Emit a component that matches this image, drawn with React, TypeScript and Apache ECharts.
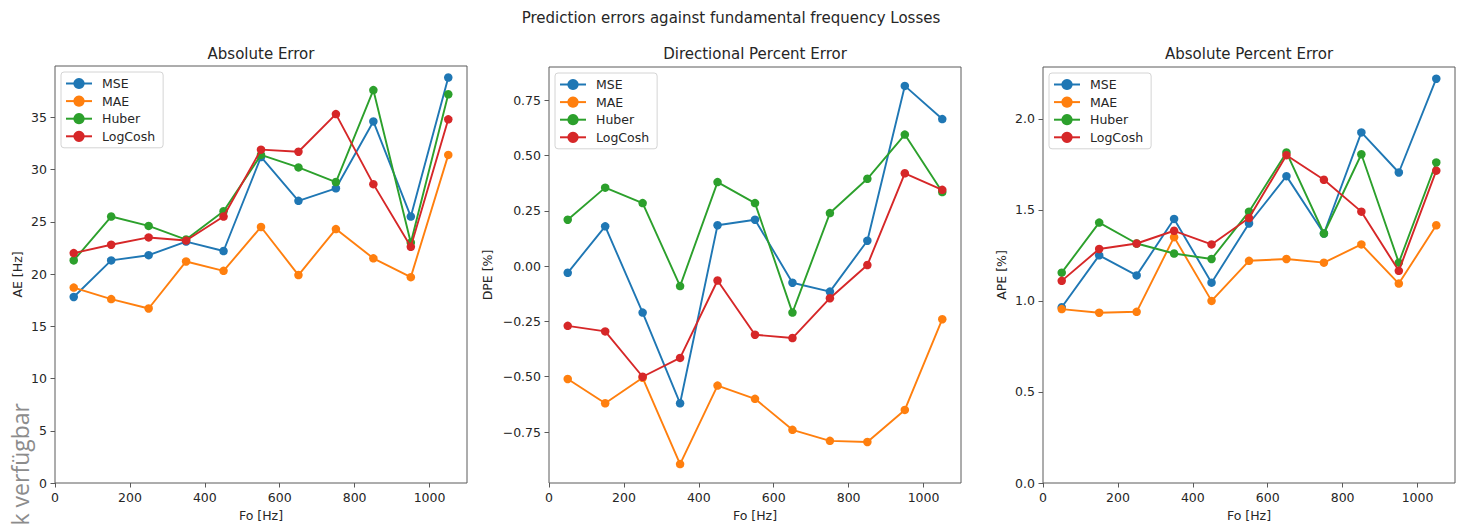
import React, { useEffect, useRef } from "react";
import * as echarts from "echarts";

// Fundamental frequency bins (Hz)
const freqs = [50, 150, 250, 350, 450, 550, 650, 750, 850, 950, 1050];
const lossNames = ["MSE", "MAE", "Huber", "LogCosh"];
const lossColors = ["#1f77b4", "#ff7f0e", "#2ca02c", "#d62728"];

// Absolute Error [Hz]
const aeMSE = [17.8, 21.3, 21.8, 23.1, 22.2, 31.2, 27.0, 28.2, 34.6, 25.5, 38.8];
const aeMAE = [18.7, 17.6, 16.7, 21.2, 20.3, 24.5, 19.9, 24.3, 21.5, 19.7, 31.4];
const aeHuber = [21.3, 25.5, 24.6, 23.3, 26.0, 31.4, 30.2, 28.8, 37.6, 23.0, 37.2];
const aeLogCosh = [22.0, 22.8, 23.5, 23.2, 25.5, 31.9, 31.7, 35.3, 28.6, 22.6, 34.8];

// Directional Percent Error [%]
const dpeMSE = [-0.03, 0.18, -0.21, -0.62, 0.185, 0.21, -0.075, -0.115, 0.115, 0.815, 0.665];
const dpeMAE = [-0.51, -0.62, -0.505, -0.895, -0.54, -0.6, -0.74, -0.79, -0.795, -0.65, -0.24];
const dpeHuber = [0.21, 0.355, 0.285, -0.09, 0.38, 0.285, -0.21, 0.24, 0.395, 0.595, 0.335];
const dpeLogCosh = [-0.27, -0.295, -0.5, -0.415, -0.065, -0.31, -0.325, -0.145, 0.005, 0.42, 0.345];

// Absolute Percent Error [%]
const apeMSE = [0.965, 1.25, 1.14, 1.45, 1.1, 1.425, 1.685, 1.37, 1.925, 1.705, 2.22];
const apeMAE = [0.955, 0.935, 0.94, 1.35, 1.0, 1.22, 1.23, 1.21, 1.31, 1.095, 1.415];
const apeHuber = [1.155, 1.43, 1.315, 1.26, 1.23, 1.49, 1.815, 1.37, 1.805, 1.21, 1.76];
const apeLogCosh = [1.11, 1.285, 1.315, 1.385, 1.31, 1.455, 1.8, 1.665, 1.49, 1.165, 1.715];

// Tick values
const xTicks = [0, 200, 400, 600, 800, 1000];
const aeTicks = [0, 5, 10, 15, 20, 25, 30, 35];
const dpeTicks = [-0.75, -0.5, -0.25, 0, 0.25, 0.5, 0.75];
const apeTicks = [0, 0.5, 1.0, 1.5, 2.0];

const suptitle = "Prediction errors against fundamental frequency Losses";
const panelTitles = ["Absolute Error", "Directional Percent Error", "Absolute Percent Error"];
const yNames = ["AE [Hz]", "DPE [%]", "APE [%]"];
const xName = "Fo [Hz]";
const sideNote = "k verfügbar";

const FONT = '"DejaVu Sans", sans-serif';
const SPINE = "#5a5a5a";
const TEXT = "#262626";

const panels = [
  { series: [aeMSE, aeMAE, aeHuber, aeLogCosh], ticks: aeTicks, digits: 0, zeroBottom: true, left: 55, top: 66, nameGap: 31 },
  { series: [dpeMSE, dpeMAE, dpeHuber, dpeLogCosh], ticks: dpeTicks, digits: 2, zeroBottom: false, left: 549, top: 67, nameGap: 55 },
  { series: [apeMSE, apeMAE, apeHuber, apeLogCosh], ticks: apeTicks, digits: 1, zeroBottom: true, left: 1043, top: 67, nameGap: 35 },
];
const GRID_W = 412;
const GRID_BOTTOM = 484;

// Matplotlib-style limits: 5% padding of the data range
function limits(arrs: number[][], zeroBottom: boolean): [number, number] {
  const all = arrs.flat();
  const lo = Math.min(...all);
  const hi = Math.max(...all);
  const pad = 0.05 * (hi - lo);
  return [zeroBottom ? 0 : lo - pad, hi + pad];
}

function fmt(v: number, digits: number): string {
  const s = Math.abs(v).toFixed(digits);
  return v < 0 ? "\u2212" + s : s;
}

export default function App() {
  const ref = useRef<HTMLDivElement>(null);

  useEffect(() => {
    if (!ref.current) return;
    const chart = echarts.init(ref.current, null, { renderer: "svg" });

    const grids: any[] = [];
    const xAxes: any[] = [];
    const yAxes: any[] = [];
    const series: any[] = [];
    const legends: any[] = [];
    const graphics: any[] = [];

    panels.forEach((p, i) => {
      const [ymin, ymax] = limits(p.series, p.zeroBottom);
      grids.push({
        left: p.left,
        top: p.top,
        width: GRID_W,
        height: GRID_BOTTOM - p.top,
        show: true,
        borderColor: SPINE,
        borderWidth: 1,
        backgroundColor: "#fff",
        containLabel: false,
      });
      xAxes.push({
        type: "value",
        gridIndex: i,
        min: 0,
        max: 1100,
        axisLine: { show: false, onZero: false },
        axisTick: { show: true, length: 4.5, lineStyle: { color: SPINE }, customValues: xTicks },
        axisLabel: {
          customValues: xTicks,
          fontSize: 12.5,
          fontFamily: FONT,
          color: TEXT,
          margin: 8,
          formatter: (v: number) => String(v),
        },
        splitLine: { show: false },
        name: xName,
        nameLocation: "middle",
        nameGap: 26,
        nameTextStyle: { fontSize: 12.5, fontFamily: FONT, color: TEXT },
      });
      yAxes.push({
        type: "value",
        gridIndex: i,
        min: ymin,
        max: ymax,
        axisLine: { show: false, onZero: false },
        axisTick: { show: true, length: 4.5, lineStyle: { color: SPINE }, customValues: p.ticks },
        axisLabel: {
          customValues: p.ticks,
          fontSize: 12.5,
          fontFamily: FONT,
          color: TEXT,
          margin: 8,
          formatter: (v: number) => fmt(v, p.digits),
        },
        splitLine: { show: false },
        name: yNames[i],
        nameLocation: "middle",
        nameGap: p.nameGap,
        nameRotate: 90,
        nameTextStyle: { fontSize: 12.5, fontFamily: FONT, color: TEXT },
      });
      p.series.forEach((vals, k) => {
        series.push({
          type: "line",
          name: lossNames[k],
          xAxisIndex: i,
          yAxisIndex: i,
          data: freqs.map((f, j) => [f, vals[j]]),
          symbol: "circle",
          symbolSize: 8.5,
          showSymbol: true,
          color: lossColors[k],
          lineStyle: { width: 1.9, color: lossColors[k] },
          itemStyle: { color: lossColors[k] },
          z: 2 + k,
        });
      });
      legends.push({
        orient: "vertical",
        left: p.left + 6,
        top: p.top + 6,
        padding: [5, 8, 5, 4],
        itemGap: 4.6,
        itemWidth: 26,
        itemHeight: 14,
        data: lossNames,
        selectedMode: false,
        textStyle: { fontSize: 12.5, fontFamily: FONT, color: TEXT, padding: [0, 0, 0, 5] },
        borderColor: "#d4d4d4",
        borderWidth: 1,
        borderRadius: 3,
        backgroundColor: "rgba(255,255,255,0.8)",
      });
      graphics.push({
        type: "text",
        x: p.left + GRID_W / 2,
        y: 54,
        style: {
          text: panelTitles[i],
          font: `15px ${FONT}`,
          fill: TEXT,
          align: "center",
          verticalAlign: "middle",
        },
      });
    });

    graphics.push({
      type: "text",
      x: 731,
      y: 18,
      style: { text: suptitle, font: `15px ${FONT}`, fill: TEXT, align: "center", verticalAlign: "middle" },
    });
    // Vertical grey note along the lower-left edge
    graphics.push({
      type: "text",
      x: 20,
      y: 403,
      rotation: Math.PI / 2,
      style: {
        text: sideNote,
        font: '23px "Open Sans", sans-serif',
        fill: "#8c8c8c",
        align: "right",
        verticalAlign: "middle",
      },
    });

    chart.setOption({
      animation: false,
      backgroundColor: "#fff",
      grid: grids,
      xAxis: xAxes,
      yAxis: yAxes,
      legend: legends,
      series,
      graphic: graphics,
    });

    return () => chart.dispose();
  }, []);

  return (
    <div
      ref={ref}
      style={{ position: "absolute", left: 0, top: 0, width: 1464, height: 527, background: "#fff" }}
    />
  );
}
